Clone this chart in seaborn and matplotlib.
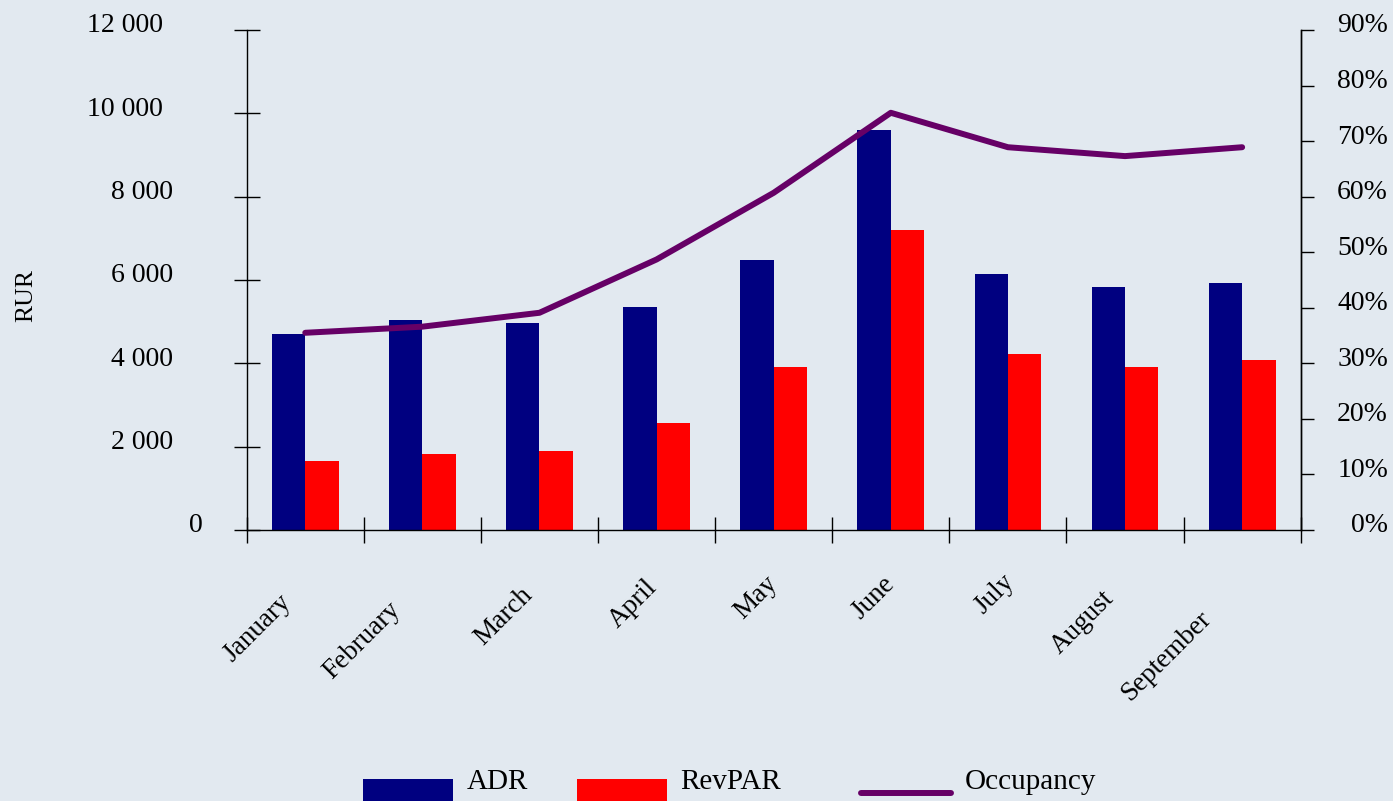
import numpy as np
import pandas as pd
import matplotlib
matplotlib.use("Agg")
import matplotlib.pyplot as plt
import matplotlib.transforms as mtransforms
from matplotlib.patches import Patch, Rectangle
from matplotlib.lines import Line2D
from matplotlib.legend_handler import HandlerPatch, HandlerLine2D
from matplotlib.ticker import PercentFormatter, FixedLocator
import seaborn as sns

# ---------------- data ----------------
months = ["January", "February", "March", "April", "May", "June",
          "July", "August", "September"]
adr = [4700, 5040, 4975, 5350, 6480, 9600, 6145, 5830, 5930]
revpar = [1655, 1825, 1895, 2570, 3910, 7200, 4225, 3910, 4080]
occupancy = [0.355, 0.366, 0.391, 0.487, 0.607, 0.751, 0.689, 0.673, 0.689]
left_ticks = [0, 2000, 4000, 6000, 8000, 10000, 12000]
left_labels = ["0", "2 000", "4 000", "6 000", "8 000", "10 000", "12 000"]
right_ticks = [0.0, 0.1, 0.2, 0.3, 0.4, 0.5, 0.6, 0.7, 0.8, 0.9]
series_names = ["ADR", "RevPAR", "Occupancy"]

BG = "#E2E9F0"
NAVY = "#000080"
RED = "#FF0000"
PURPLE = "#660066"

sns.set_theme(style="white")
plt.rcParams["font.family"] = ["Liberation Serif", "DejaVu Serif"]
plt.rcParams.update({
    "axes.facecolor": BG, "figure.facecolor": BG,
    "text.color": "black", "axes.labelcolor": "black",
    "xtick.color": "black", "ytick.color": "black",
})

df = pd.DataFrame({
    "month": months * 2,
    "metric": [series_names[0]] * len(months) + [series_names[1]] * len(months),
    "value": adr + revpar,
})

DPI = 100
PX = 1.0 / DPI  # one pixel in inches
fig = plt.figure(figsize=(13.93, 8.01), dpi=DPI)
ax = fig.add_axes([246.7 / 1393, 1 - 530 / 801, 1054 / 1393, 500 / 801])

sns.barplot(data=df, x="month", y="value", hue="metric", order=months,
            hue_order=series_names[:2], palette=[NAVY, RED], width=0.57,
            saturation=1, edgecolor="none", linewidth=0, legend=False, ax=ax)

ax.set_xlim(-0.5, len(months) - 0.5)
ax.set_ylim(0, 12000)
ax.set_xlabel("")
ax.set_ylabel("RUR", fontsize=18.5, labelpad=0, color="black")
ax.yaxis.set_label_coords(-(246.7 - 37) / 1054, 0.47)

# spines
for s in ["left", "bottom", "right"]:
    ax.spines[s].set_visible(True)
    ax.spines[s].set_color("black")
    ax.spines[s].set_linewidth(1.0)
ax.spines["top"].set_visible(False)

# y ticks (left)
ax.yaxis.set_major_locator(FixedLocator(left_ticks))
ax.set_yticklabels(left_labels)
ax.tick_params(axis="y", which="major", direction="inout", length=18.7,
               width=1.0, color="black", labelcolor="black", labelsize=20,
               pad=0, left=True)
for tick, lab in zip(ax.yaxis.get_major_ticks(), left_labels):
    if len(lab) >= 6:
        right_edge = 163
    elif len(lab) >= 5:
        right_edge = 173
    else:
        right_edge = 203
    dx = -((246.7 - right_edge) - 13.0)
    off = mtransforms.ScaledTranslation(dx * PX, 7 * PX, fig.dpi_scale_trans)
    tick.label1.set_transform(tick.label1.get_transform() + off)

# x ticks: major for labels (no marks), minor at category boundaries
ax.set_xticks(range(len(months)))
ax.set_xticklabels(months)
ax.xaxis.set_minor_locator(FixedLocator(np.arange(-0.5, len(months), 1.0)))
ax.tick_params(axis="x", which="major", length=0, labelsize=19.5, pad=43,
               labelcolor="black")
ax.tick_params(axis="x", which="minor", direction="inout", length=18.7,
               width=1.0, color="black", bottom=True)
xlabels = ax.get_xticklabels()
for lab in xlabels:
    lab.set_rotation(45)
    lab.set_ha("right")
    lab.set_va("top")
    lab.set_rotation_mode("anchor")

# measure label lengths to mimic the original's placement
fig.canvas.draw()
renderer = fig.canvas.get_renderer()
lengths = []
for lab in xlabels:
    t = fig.text(0, 0, lab.get_text(), fontproperties=lab.get_fontproperties())
    lengths.append(t.get_window_extent(renderer).width)
    t.remove()
L0 = lengths[0]
for lab, L in zip(xlabels, lengths):
    d = (L - L0) * 0.75 * 0.7071
    off = mtransforms.ScaledTranslation((-27 - d) * PX, (-d) * PX,
                                        fig.dpi_scale_trans)
    lab.set_transform(lab.get_transform() + off)

# secondary axis for occupancy
ax2 = ax.twinx()
ax2.set_ylim(0, 0.9)
sns.lineplot(x=np.arange(len(months)), y=occupancy, color=PURPLE,
             linewidth=4.3, sort=False, ax=ax2)
ax2.set_xlim(-0.5, len(months) - 0.5)
ax2.yaxis.set_major_locator(FixedLocator(right_ticks))
ax2.yaxis.set_major_formatter(PercentFormatter(1.0, decimals=0))
ax2.tick_params(axis="y", which="major", direction="out", length=9.4,
                width=1.0, color="black", labelcolor="black", labelsize=20,
                pad=0, right=True)
ax2.set_facecolor("none")
for s in ["left", "top", "bottom"]:
    ax2.spines[s].set_visible(False)
ax2.spines["right"].set_color("black")
ax2.spines["right"].set_linewidth(1.0)
for tick in ax2.yaxis.get_major_ticks():
    tick.label2.set_ha("right")
    dx = (1388 - 1300.7) - 13.0
    off = mtransforms.ScaledTranslation(dx * PX, 7 * PX, fig.dpi_scale_trans)
    tick.label2.set_transform(tick.label2.get_transform() + off)

ax.grid(False)
ax2.grid(False)


# legend handlers that sit a little lower than the text, as in the original
def low_rect(legend, orig_handle, xdescent, ydescent, width, height, fontsize):
    shift = 12 * 72 / DPI
    return Rectangle((-xdescent, -ydescent - shift), width, height)


class LowLine(HandlerLine2D):
    def create_artists(self, legend, orig_handle, xdescent, ydescent,
                       width, height, fontsize, trans):
        arts = super().create_artists(legend, orig_handle, xdescent, ydescent,
                                      width, height, fontsize, trans)
        shift = 15 * 72 / DPI
        for a in arts:
            if isinstance(a, Line2D):
                a.set_ydata(np.asarray(a.get_ydata(), dtype=float) - shift)
        return arts


handles = [Patch(facecolor=NAVY, edgecolor="none"),
           Patch(facecolor=RED, edgecolor="none"),
           Line2D([0], [0], color=PURPLE, linewidth=4.3)]
hmap = {Patch: HandlerPatch(patch_func=low_rect), Line2D: LowLine()}
starts = [363, 577, 861]
for h, name, x0 in zip(handles, series_names, starts):
    fig.legend([h], [name], loc="center left",
               bbox_to_anchor=(x0 / 1393, 1 - 781 / 801),
               frameon=False, fontsize=21, handlelength=3.1,
               handleheight=0.8, handletextpad=0.45, borderpad=0,
               borderaxespad=0, handler_map=hmap, labelcolor="black")

fig.savefig("out.png", dpi=DPI, facecolor=BG)
